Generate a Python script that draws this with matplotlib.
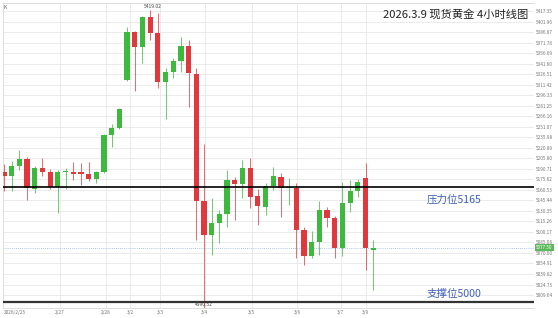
import matplotlib
matplotlib.use("Agg")
import matplotlib.pyplot as plt
import matplotlib.transforms as mtransforms

plt.rcParams['font.family'] = ['Noto Sans CJK SC', 'DejaVu Sans']

# 4h candles, 2026/2/25 -> 2026/3/9 (open, high, low, close)
opens = [5185.8, 5180.9, 5195.3, 5204.4, 5161.8, 5192.4, 5186.6, 5165.1, 5185.8, 5186.6,
         5185.8, 5183.7, 5175.7, 5185.8, 5239.3, 5248.9, 5318.3, 5387.2, 5366.1, 5408.3,
         5385.3, 5315.0, 5330.2, 5345.6, 5367.1, 5326.9, 5145.0, 5095.7, 5112.5, 5125.5,
         5174.7, 5169.0, 5192.4, 5151.8, 5136.4, 5166.1, 5179.5, 5162.8, 5163.7, 5102.9,
         5065.6, 5086.1, 5131.7, 5119.7, 5076.7, 5142.1, 5159.4, 5178.0, 5074.2]
highs = [5197.3, 5202.0, 5217.8, 5207.7, 5194.8, 5205.9, 5190.5, 5189.1, 5191.9, 5200.1,
         5198.7, 5201.0, 5187.6, 5240.8, 5255.1, 5278.1, 5394.8, 5388.6, 5410.2, 5419.02,
         5414.0, 5335.1, 5349.4, 5379.6, 5375.7, 5335.5, 5226.4, 5148.4, 5131.7, 5189.1,
         5179.5, 5203.4, 5205.9, 5161.4, 5170.0, 5193.8, 5185.2, 5177.1, 5170.9, 5107.7,
         5101.5, 5144.6, 5136.4, 5123.0, 5172.3, 5174.7, 5175.7, 5198.7, 5088.6]
lows = [5158.9, 5158.9, 5189.1, 5146.0, 5156.5, 5180.9, 5161.8, 5126.9, 5161.4, 5174.7,
        5167.5, 5173.3, 5170.0, 5184.8, 5222.5, 5247.9, 5316.8, 5302.9, 5342.3, 5375.7,
        5306.4, 5261.9, 5320.7, 5330.2, 5280.0, 5088.6, 4990.52, 5067.0, 5083.8, 5107.7,
        5117.3, 5148.4, 5134.1, 5110.1, 5124.5, 5160.4, 5121.2, 5138.8, 5062.3, 5052.7,
        5062.3, 5067.0, 5107.7, 5062.3, 5065.6, 5129.2, 5150.8, 5045.5, 5016.8]
closes = [5180.9, 5194.8, 5204.9, 5162.8, 5192.4, 5185.8, 5164.2, 5185.8, 5186.2, 5183.7,
          5183.7, 5175.7, 5185.8, 5239.3, 5249.8, 5276.2, 5387.2, 5366.1, 5408.3, 5385.3,
          5315.8, 5330.2, 5345.6, 5367.1, 5327.9, 5145.0, 5095.7, 5112.5, 5125.5, 5174.7,
          5169.0, 5192.4, 5150.8, 5137.4, 5166.1, 5180.5, 5162.8, 5163.0, 5102.9, 5065.6,
          5086.1, 5131.7, 5119.7, 5076.7, 5142.1, 5159.4, 5172.3, 5076.7, 5077.5]

date_labels = ["2026/2/25", "2/27", "2/28", "3/2", "3/3", "3/4", "3/5", "3/6", "3/7", "3/9"]
date_pos = [0, 7.3, 13.2, 16.4, 20.3, 26.1, 32.2, 38.1, 43.8, 47.0]

price_ticks = [5009.64, 5024.73, 5039.82, 5054.91, 5070.00, 5085.08, 5100.17, 5115.26,
               5130.35, 5145.44, 5160.53, 5175.62, 5190.71, 5205.80, 5220.89, 5235.98,
               5251.07, 5266.16, 5281.25, 5296.33, 5311.42, 5326.51, 5341.60, 5356.69,
               5371.78, 5386.87, 5401.96, 5417.35]

resistance = 5165
support = 5000
title = "2026.3.9 现货黄金 4小时线图"

green = "#3dba3d"
red = "#e0383c"

fig = plt.figure(figsize=(5.58, 3.18), dpi=100)
ax = fig.add_axes([3 / 558, 10 / 318, 531 / 558, 305 / 318])

# grid
for p in price_ticks:
    ax.axhline(p, color="#e8e8e8", lw=0.6, zorder=0)
for d in date_pos[1:]:
    ax.axvline(d, color="#e8e8e8", lw=0.6, zorder=0)

# candles
for i in range(len(opens)):
    o, h, l, c = opens[i], highs[i], lows[i], closes[i]
    col = green if c >= o else red
    ax.vlines(i, l, h, color=col, lw=0.7, alpha=0.75, zorder=2)
    body = max(abs(c - o), 1.2)
    ax.bar(i, body, bottom=min(o, c), width=0.68, color=col, lw=0, zorder=3)

# levels
last = closes[-1]
ax.axhline(last, color="#8fb3e0", lw=0.6, ls=(0, (1, 1.5)), zorder=1)
ax.axhline(resistance, color="black", lw=1.2, zorder=4)
ax.axhline(support, color="#333333", lw=1.6, zorder=4)

ax.set_xlim(-0.13, 68.9)
ax.set_ylim(4991, 5428.8)

ax.yaxis.tick_right()
ax.set_yticks(price_ticks)
ax.set_yticklabels([f"{p:.2f}" for p in price_ticks], fontsize=3.4, color="#777777")
ax.set_xticks(date_pos)
ax.set_xticklabels(date_labels, fontsize=3.4, color="#777777")
ax.tick_params(length=0, pad=1.5)
for lab in ax.get_xticklabels()[:1]:
    lab.set_horizontalalignment("left")

for s in ["top", "left", "bottom"]:
    ax.spines[s].set_color("#d8d8d8")
    ax.spines[s].set_linewidth(0.6)
ax.spines["right"].set_visible(False)

# annotations
ax.text(19.3, 5419.02 + 1, "5419.02", fontsize=3.5, color="#444444", ha="center", va="bottom")
ax.text(26.0, support - 1, "4990.52", fontsize=3.5, color="#444444", ha="center", va="top")
ax.text(0.9885, 0.962, title, transform=ax.transAxes, fontsize=8.1, ha="right", va="center",
        color="#222222")
ax.text(55.0, 5147, f"压力位{resistance}", fontsize=7.6, color="#3f5fbf", ha="left", va="center")
ax.text(55.0, 5011, f"支撑位{support}", fontsize=7.6, color="#3f5fbf", ha="left", va="center")
ax.text(-0.05, 5426, "K", fontsize=3.5, color="#555555", ha="left", va="top")

trans = mtransforms.blended_transform_factory(ax.transAxes, ax.transData)
ax.text(1.004, last, f"{last:.2f}", transform=trans, fontsize=3.3, color="white",
        ha="left", va="center",
        bbox=dict(boxstyle="square,pad=0.25", fc="#5cb85c", ec="none"))

fig.savefig("out.png", dpi=100)
